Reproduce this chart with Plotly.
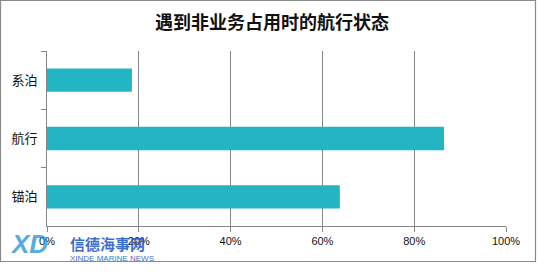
import plotly.graph_objects as go

categories = ["系泊", "航行", "锚泊"]
values = [18.5, 86.5, 63.8]
tick_vals = [0, 20, 40, 60, 80, 100]
tick_text = ["0%", "20%", "40%", "60%", "80%", "100%"]
title = "遇到非业务占用时的航行状态"

W, H = 544, 272
L, R, T, B = 47, 38, 51, 46
pw, ph = W - L - R, H - T - B

def px_x(x):
    return (x - L) / pw

def px_y(y):
    return (H - B - y) / ph

fig = go.Figure(go.Bar(
    x=values, y=categories, orientation="h",
    marker=dict(color="#23B5C3", line=dict(width=0)),
    width=0.4,
))

fig.update_layout(
    width=W, height=H,
    margin=dict(l=L, r=R, t=T, b=B),
    paper_bgcolor="white", plot_bgcolor="white",
    showlegend=False,
    title=dict(text="<b>" + title + "</b>", x=0.5, xanchor="center", y=1 - 23 / H, yanchor="middle",
               font=dict(family="Noto Sans CJK SC", size=18, color="#111111"),
               ),
    font=dict(family="Liberation Sans, Arial", color="#111111"),
    xaxis=dict(range=[0, 100], tickvals=tick_vals, ticktext=tick_text,
               showgrid=True, gridcolor="#868686", gridwidth=1,
               showline=True, linecolor="#868686", linewidth=1,
               ticks="outside", ticklen=5, tickcolor="#868686",
               tickfont=dict(size=11, family="Liberation Sans, Arial", color="#111111"),
               zeroline=False, fixedrange=True),
    yaxis=dict(categoryorder="array", categoryarray=categories, autorange="reversed",
               showline=True, linecolor="#868686", linewidth=1,
               ticks="outside", ticklen=5, tickcolor="#868686",
               tickson="boundaries", ticklabelstandoff=6,
               tickfont=dict(size=13, family="Noto Sans CJK SC", color="#111111"),
               showgrid=False, zeroline=False, fixedrange=True),
    bargap=0.6,
)

# outer border
fig.add_shape(type="rect", xref="paper", yref="paper",
              x0=px_x(0.5), x1=px_x(535.5), y0=px_y(261.5), y1=px_y(0.5),
              line=dict(color="#8A8A8A", width=1.2), fillcolor="rgba(0,0,0,0)", layer="above")

# watermark
fig.add_annotation(text="<b><i>XD</i></b>", xref="paper", yref="paper",
                   x=px_x(8), y=px_y(244), xanchor="left", yanchor="middle",
                   showarrow=False,
                   font=dict(size=26, family="Liberation Sans", color="rgba(40,150,220,0.8)"))
fig.add_annotation(text="<b>信德海事网</b>", xref="paper", yref="paper",
                   x=px_x(68), y=px_y(243), xanchor="left", yanchor="middle",
                   showarrow=False,
                   font=dict(size=15, family="Noto Sans CJK SC", color="rgba(30,90,200,0.9)"))
fig.add_annotation(text="XINDE MARINE NEWS", xref="paper", yref="paper",
                   x=px_x(68), y=px_y(258), xanchor="left", yanchor="middle",
                   showarrow=False,
                   font=dict(size=8, family="Liberation Sans", color="rgba(30,90,200,0.9)"))

fig.write_html("out.html")
